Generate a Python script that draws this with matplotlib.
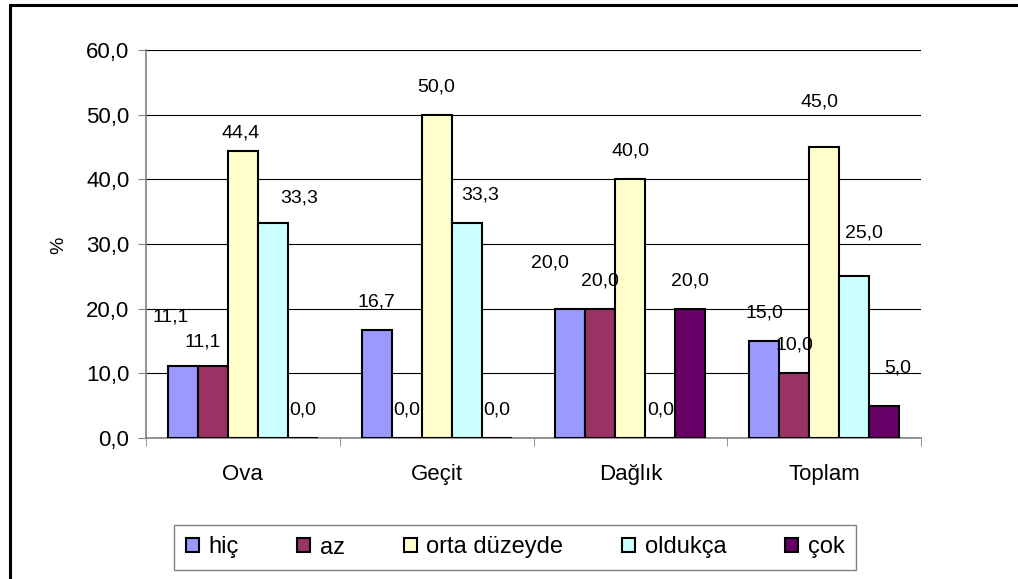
import numpy as np
import matplotlib
matplotlib.use("Agg")
import matplotlib.pyplot as plt
from matplotlib.patches import Rectangle

plt.rcParams['font.family'] = ['Liberation Sans', 'DejaVu Sans']

# data
categories = ['Ova', 'Geçit', 'Dağlık', 'Toplam']
series = ['hiç', 'az', 'orta düzeyde', 'oldukça', 'çok']
hic = [11.1, 16.7, 20.0, 15.0]
az = [11.1, 0.0, 20.0, 10.0]
orta = [44.4, 50.0, 40.0, 45.0]
oldukca = [33.3, 33.3, 0.0, 25.0]
cok = [0.0, 0.0, 20.0, 5.0]
values = [hic, az, orta, oldukca, cok]

colors = ['#9999FF', '#993366', '#FFFFCC', '#CCFFFF', '#660066']

# label nudges in px (series index, category index) -> (dx, dy)
nudges = {
    (0, 0): (-12, 21), (1, 0): (-10, -4), (2, 0): (-2, -10), (3, 0): (26, -3),
    (3, 1): (14, 0),
    (0, 2): (-20, 18),
    (2, 3): (-5, 17), (3, 3): (10, 15), (4, 3): (14, 10),
}

W, H = 1018, 579
fig = plt.figure(figsize=(W / 100, H / 100), dpi=100)
ax = fig.add_axes([146 / W, 1 - 438 / H, (921 - 146) / W, (438 - 50) / H])

x = np.arange(len(categories))
bw = 0.155
px = 0.72  # px -> pt
for i, (name, vals) in enumerate(zip(series, values)):
    pos = x + (i - 2) * bw
    ax.bar(pos, vals, bw, color=colors[i], edgecolor='black', linewidth=1.5,
           label=name, zorder=3)
    for j, v in enumerate(vals):
        dx, dy = nudges.get((i, j), (0, 0))
        ax.annotate(f"{v:.1f}".replace('.', ','), (pos[j], v),
                    xytext=(dx * px, (28 + dy) * px), textcoords='offset points',
                    ha='center', va='center', fontsize=14, zorder=4)

ax.set_xlim(-0.5, 3.5)
ax.set_ylim(0, 60)
ax.set_yticks(np.arange(0, 61, 10))
ax.set_yticklabels([f"{t:.1f}".replace('.', ',') for t in np.arange(0, 61, 10)],
                   fontsize=16)
ax.set_xticks(x)
ax.set_xticklabels(categories, fontsize=16)
ax.set_xticks(np.arange(-0.5, 3.6, 1), minor=True)
ax.tick_params(axis='x', which='major', length=0, pad=19)
ax.tick_params(axis='x', which='minor', length=6, color='#808080', direction='out')
ax.tick_params(axis='y', length=6, color='#808080', pad=6)
ax.yaxis.grid(True, color='black', linewidth=0.8, zorder=0)
ax.set_axisbelow(True)
for s in ['top', 'right']:
    ax.spines[s].set_visible(False)
for s in ['left', 'bottom']:
    ax.spines[s].set_color('#808080')
    ax.spines[s].set_linewidth(1.2)

fig.text(59 / W, 1 - 245 / H, '%', rotation=90, ha='center', va='center', fontsize=14)

leg = fig.legend(loc='center', bbox_to_anchor=(515 / W, 1 - 547.5 / H), ncol=5,
                 fontsize=17, handlelength=0.55, handleheight=0.55,
                 handletextpad=0.4, columnspacing=2.5, borderpad=0.5,
                 fancybox=False, framealpha=1, edgecolor='#808080')
leg.get_frame().set_linewidth(1.0)
for h in leg.legend_handles:
    h.set_linewidth(1.5)

fig.patches.append(Rectangle((10 / W, -0.1), 1.2, 1.1 - 5 / H, transform=fig.transFigure,
                             fill=False, edgecolor='black', linewidth=2.2))

fig.savefig('out.png', dpi=100)
